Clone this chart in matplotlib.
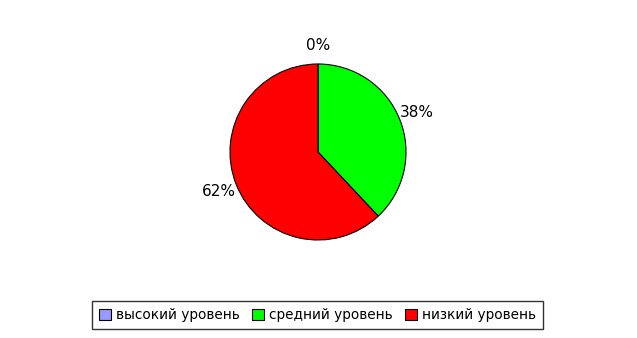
import matplotlib
matplotlib.use("Agg")
import matplotlib.pyplot as plt

categories = ["высокий уровень", "средний уровень", "низкий уровень"]
values = [0, 38, 62]
colors = ["#9999FF", "#00FF00", "#FF0000"]

W, H = 637, 338
fig = plt.figure(figsize=(W / 100, H / 100), dpi=100)
fig.patch.set_facecolor("white")

cx, cy, r = 318, 152, 88
ax = fig.add_axes([(cx - r) / W, (H - cy - r) / H, 2 * r / W, 2 * r / H])
wedges, texts, autotexts = ax.pie(
    values, colors=colors, startangle=90, counterclock=False,
    autopct="%1.0f%%", pctdistance=1.21,
    wedgeprops=dict(edgecolor="black", linewidth=0.8),
    textprops=dict(fontsize=11, family="DejaVu Sans", color="black"),
)
ax.set_xlim(-1, 1)
ax.set_ylim(-1, 1)
ax.set_aspect("equal")
ax.axis("off")

leg = fig.legend(wedges, categories, loc="center", bbox_to_anchor=(317.5 / W, (H - 315) / H),
                 ncol=3, frameon=True, fancybox=False, fontsize=9.8,
                 handlelength=0.85, handleheight=0.85, handletextpad=0.4, columnspacing=0.9,
                 borderpad=0.55)
leg.get_frame().set_edgecolor("black")
leg.get_frame().set_linewidth(1.0)

fig.savefig("out.png", dpi=100, facecolor="white")
